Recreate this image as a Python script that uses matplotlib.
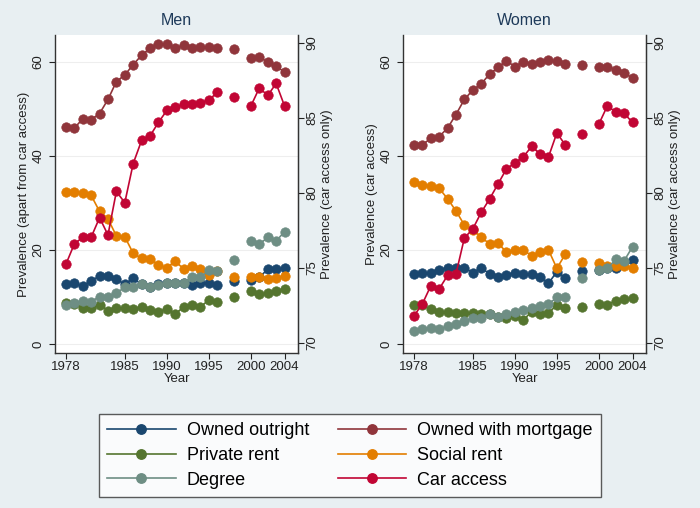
import numpy as np
import matplotlib.pyplot as plt
from matplotlib.lines import Line2D

plt.rcParams['font.family'] = ['Liberation Sans', 'DejaVu Sans']

years = [1978, 1979, 1980, 1981, 1982, 1983, 1984, 1985, 1986, 1987, 1988, 1989,
         1990, 1991, 1992, 1993, 1994, 1995, 1996, 1997, 1998, 1999, 2000, 2001,
         2002, 2003, 2004]

# men (None = no survey that year)
men_outright = [12.7, 12.9, 12.3, 13.4, 14.5, 14.5, 13.8, 12.7, 14.0, 12.7, 12.2, 12.7,
                12.9, 12.9, 12.9, 12.6, 12.9, 12.9, 12.6, None, 13.4, None, 13.6, 14.2,
                15.9, 15.9, 16.1]
men_mortgage = [46.2, 45.9, 47.9, 47.7, 49.0, 52.0, 55.8, 57.2, 59.4, 61.4, 62.9, 63.8,
                63.7, 62.9, 63.5, 62.9, 63.2, 63.2, 62.9, None, 62.7, None, 60.8, 61.1,
                59.9, 59.1, 57.8]
men_private = [8.8, 8.5, 7.7, 7.7, 8.4, 7.1, 7.7, 7.7, 7.4, 7.9, 7.2, 6.9,
               7.4, 6.4, 7.9, 8.3, 7.9, 9.4, 9.0, None, 9.9, None, 11.3, 10.6,
               10.8, 11.3, 11.8]
men_social = [32.3, 32.3, 32.1, 31.6, 28.2, 26.6, 23.0, 22.8, 19.3, 18.2, 18.1, 16.8,
              16.2, 17.7, 15.9, 16.5, 16.0, 14.6, 15.6, None, 14.2, None, 14.2, 14.2,
              13.8, 14.0, 14.5]
men_degree = [8.3, 8.8, 9.2, 9.0, 10.1, 9.9, 10.8, 12.1, 12.1, 12.7, 12.1, 12.6,
              12.9, 12.9, 12.9, 14.3, 14.2, 15.7, 15.6, None, 17.9, None, 21.9, 21.2,
              22.7, 21.9, 23.9]
men_car = [75.25, 76.6, 77.05, 77.05, 78.35, 77.2, 80.1, 79.35, 81.96, 83.5, 83.8, 84.7,
           85.5, 85.7, 85.9, 85.9, 86.0, 86.2, 86.7, None, 86.4, None, 85.8, 87.0,
           86.5, 87.3, 85.8]

# women
women_outright = [14.8, 15.2, 15.2, 15.7, 16.2, 16.2, 16.2, 15.2, 16.1, 15.0, 14.2, 14.7,
                  15.2, 14.8, 15.0, 14.2, 12.9, 15.4, 14.0, None, 15.5, None, 15.7, 16.1,
                  16.1, 17.5, 17.9]
women_mortgage = [42.4, 42.4, 43.7, 44.1, 45.9, 48.8, 52.0, 54.0, 55.3, 57.4, 58.8, 60.2,
                  59.0, 60.0, 59.6, 60.0, 60.4, 60.1, 59.5, None, 59.4, None, 58.9, 59.0,
                  58.3, 57.7, 56.5]
women_private = [8.4, 8.3, 7.4, 6.9, 6.9, 6.5, 6.7, 6.7, 6.3, 6.4, 5.8, 5.5,
                 6.0, 5.1, 6.9, 6.3, 6.5, 8.4, 7.6, None, 7.8, None, 8.5, 8.4,
                 9.2, 9.5, 9.7]
women_social = [34.4, 33.8, 33.6, 33.1, 30.9, 28.3, 25.3, 24.3, 22.7, 21.3, 21.4, 19.6,
                20.0, 20.1, 18.7, 19.6, 20.0, 16.1, 19.1, None, 17.4, None, 17.3, 16.6,
                16.6, 16.6, 16.1]
women_degree = [2.8, 3.2, 3.5, 3.1, 3.8, 4.2, 4.9, 5.5, 5.5, 6.3, 5.8, 6.4,
                6.9, 7.2, 7.6, 8.1, 8.5, 9.9, 10.1, None, 14.0, None, 15.7, 16.1,
                18.0, 17.7, 20.7]
women_car = [71.8, 72.6, 73.8, 73.6, 74.5, 74.6, 77.0, 77.6, 78.7, 79.6, 80.6, 81.6,
             82.0, 82.4, 83.1, 82.6, 82.4, 84.0, 83.2, None, 83.9, None, 84.6, 85.8,
             85.4, 85.3, 84.7]

labels = ['Owned outright', 'Owned with mortgage', 'Private rent', 'Social rent',
          'Degree', 'Car access']
colors = ['#1a476f', '#90353b', '#55752f', '#e37e00', '#6e8e84', '#c10534']

bg = '#e8eff2'
txt = '#222222'


def arr(v):
    return np.array([np.nan if a is None else a for a in v], dtype=float)


x = np.array(years, dtype=float)

fig = plt.figure(figsize=(7, 5.08), dpi=100, facecolor=bg)

panels = [
    ('Men', 'Prevalence (apart from car access)', 55,
     [men_outright, men_mortgage, men_private, men_social, men_degree], men_car),
    ('Women', 'Prevalence (car access)', 403,
     [women_outright, women_mortgage, women_private, women_social, women_degree], women_car),
]

W, H = 700, 508
fs = 9.5
for title, ylab, left, series, car in panels:
    ax = fig.add_axes([left / W, 1 - 353 / H, 243 / W, (353 - 35) / H])
    ax.set_facecolor('white')
    for s, c in zip(series, colors[:5]):
        ax.plot(x, arr(s), '-o', color=c, ms=6.8, lw=1.2, mec=c, mew=0.5, zorder=3)
    ax.set_ylim(-1.9, 65.7)
    ax.set_xlim(1976.7, 2005.6)
    ax.set_yticks([0, 20, 40, 60])
    ax.set_xticks([1978, 1985, 1990, 1995, 2000, 2004])
    ax.grid(axis='y', color='#eeeeee', lw=0.8)
    ax.set_axisbelow(True)
    ax.spines['top'].set_visible(False)
    for sp in ['left', 'bottom', 'right']:
        ax.spines[sp].set_color('#333333')
        ax.spines[sp].set_linewidth(1.0)
    ax.tick_params(axis='y', labelrotation=90, labelsize=fs, colors=txt, length=4)
    ax.tick_params(axis='x', labelsize=fs, colors=txt, length=4, pad=2)
    for t in ax.get_yticklabels():
        t.set_va('center')
    ax.set_ylabel(ylab, fontsize=fs, color=txt, labelpad=2)
    ax.set_xlabel('Year', fontsize=fs, color=txt, labelpad=0)
    ax.set_title(title, fontsize=11.5, color='#1e3a5a', pad=7)

    ax2 = ax.twinx()
    ax2.plot(x, arr(car), '-o', color=colors[5], ms=6.8, lw=1.2, mec=colors[5],
             mew=0.5, zorder=3)
    ax2.set_ylim(69.33, 90.53)
    ax2.set_yticks([70, 75, 80, 85, 90])
    for sp in ['top', 'left', 'bottom']:
        ax2.spines[sp].set_visible(False)
    ax2.spines['right'].set_color('#333333')
    ax2.tick_params(axis='y', labelrotation=90, labelsize=fs, colors=txt, length=4, pad=2)
    for t in ax2.get_yticklabels():
        t.set_va('center')
    ax2.set_ylabel('Prevalence (car access only)', fontsize=fs, color=txt,
                   rotation=90, labelpad=2)

# legend fills column-wise, so order to read row-wise like the reference
order = [0, 2, 4, 1, 3, 5]
handles = [Line2D([0], [0], color=colors[i], marker='o', ms=6.8, lw=1.2) for i in order]
leg = fig.legend(handles, [labels[i] for i in order], ncol=2, loc='center',
                 bbox_to_anchor=(350 / W, 1 - 455.5 / H), fontsize=13,
                 frameon=True, fancybox=False, edgecolor='#333333',
                 handlelength=3.8, columnspacing=1.6, labelspacing=0.42,
                 borderpad=0.45, handletextpad=0.6)
leg.get_frame().set_linewidth(1.0)

fig.savefig('out.png', dpi=100, facecolor=bg)
